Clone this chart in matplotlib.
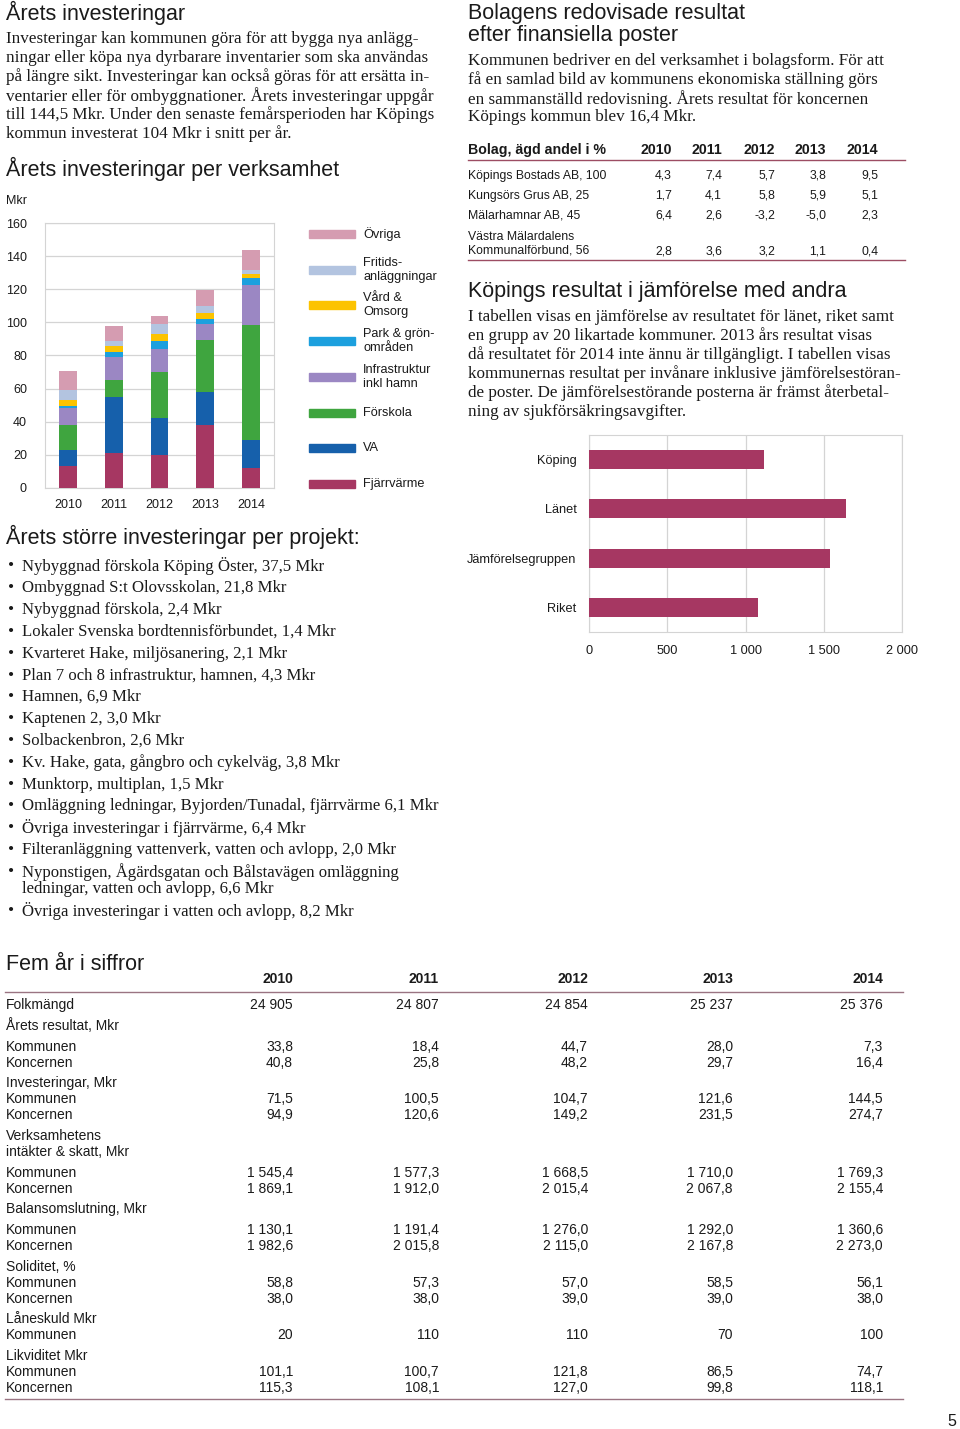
import numpy as np
import matplotlib
matplotlib.use('Agg')
import matplotlib.pyplot as plt
from matplotlib.patches import Rectangle
from matplotlib.lines import Line2D

plt.rcParams['font.family'] = ['Liberation Sans', 'DejaVu Sans']

# --- data ---
years = ['2010', '2011', '2012', '2013', '2014']
sectors = ['Fjärrvärme', 'VA', 'Förskola', 'Infrastruktur\ninkl hamn',
           'Park & grön-\nområden', 'Vård &\nOmsorg', 'Fritids-\nanläggningar', 'Övriga']
fjarrvarme = [13.1, 21.1, 19.7, 38.2, 12.1]
va = [9.9, 33.8, 22.6, 19.7, 16.7]
forskola = [15.2, 10.5, 27.5, 31.6, 69.8]
infra = [10.1, 13.7, 14.3, 9.7, 24.1]
park = [1.4, 2.8, 4.4, 2.6, 4.1]
vard = [3.6, 3.6, 4.7, 3.8, 2.6]
fritids = [6.1, 3.0, 6.0, 4.5, 2.4]
ovriga = [11.2, 9.5, 4.4, 9.6, 11.7]
sector_vals = [fjarrvarme, va, forskola, infra, park, vard, fritids, ovriga]
sector_cols = ['#a63762', '#1660ab', '#3fa53f', '#9b87c3', '#1ca0de', '#fcc300', '#b3c4e0', '#d59cb1']

comp_labels = ['Köping', 'Länet', 'Jämförelsegruppen', 'Riket']
comp_values = [1120, 1643, 1541, 1077]

bolag_names = ['Köpings Bostads AB, 100', 'Kungsörs Grus AB, 25', 'Mälarhamnar AB, 45',
               'Västra Mälardalens\nKommunalförbund, 56']
bolag_vals = [['4,3', '7,4', '5,7', '3,8', '9,5'],
              ['1,7', '4,1', '5,8', '5,9', '5,1'],
              ['6,4', '2,6', '-3,2', '-5,0', '2,3'],
              ['2,8', '3,6', '3,2', '1,1', '0,4']]

five_labels = ['Folkmängd', 'Årets resultat, Mkr', 'Kommunen', 'Koncernen', 'Investeringar, Mkr',
               'Kommunen', 'Koncernen', 'Verksamhetens', 'intäkter & skatt, Mkr', 'Kommunen',
               'Koncernen', 'Balansomslutning, Mkr', 'Kommunen', 'Koncernen', 'Soliditet, %',
               'Kommunen', 'Koncernen', 'Låneskuld Mkr', 'Kommunen', 'Likviditet Mkr',
               'Kommunen', 'Koncernen']
five_vals = [['24 905', '24 807', '24 854', '25 237', '25 376'], None,
             ['33,8', '18,4', '44,7', '28,0', '7,3'],
             ['40,8', '25,8', '48,2', '29,7', '16,4'], None,
             ['71,5', '100,5', '104,7', '121,6', '144,5'],
             ['94,9', '120,6', '149,2', '231,5', '274,7'], None, None,
             ['1 545,4', '1 577,3', '1 668,5', '1 710,0', '1 769,3'],
             ['1 869,1', '1 912,0', '2 015,4', '2 067,8', '2 155,4'], None,
             ['1 130,1', '1 191,4', '1 276,0', '1 292,0', '1 360,6'],
             ['1 982,6', '2 015,8', '2 115,0', '2 167,8', '2 273,0'], None,
             ['58,8', '57,3', '57,0', '58,5', '56,1'],
             ['38,0', '38,0', '39,0', '39,0', '38,0'], None,
             ['20', '110', '110', '70', '100'], None,
             ['101,1', '100,7', '121,8', '86,5', '74,7'],
             ['115,3', '108,1', '127,0', '99,8', '118,1']]
five_y = [1005, 1026, 1047, 1063, 1083, 1099, 1115, 1136, 1152, 1173, 1189, 1209, 1230, 1246,
          1267, 1283, 1299, 1319, 1335, 1356, 1372, 1388]

projekt = ['Nybyggnad förskola Köping Öster, 37,5 Mkr',
           'Ombyggnad S:t Olovsskolan, 21,8 Mkr',
           'Nybyggnad förskola, 2,4 Mkr',
           'Lokaler Svenska bordtennisförbundet, 1,4 Mkr',
           'Kvarteret Hake, miljösanering, 2,1 Mkr',
           'Plan 7 och 8 infrastruktur, hamnen, 4,3 Mkr',
           'Hamnen, 6,9 Mkr',
           'Kaptenen 2, 3,0 Mkr',
           'Solbackenbron, 2,6 Mkr',
           'Kv. Hake, gata, gångbro och cykelväg, 3,8 Mkr',
           'Munktorp, multiplan, 1,5 Mkr',
           'Omläggning ledningar, Byjorden/Tunadal, fjärrvärme 6,1 Mkr',
           'Övriga investeringar i fjärrvärme, 6,4 Mkr',
           'Filteranläggning vattenverk, vatten och avlopp, 2,0 Mkr',
           'Nyponstigen, Ågärdsgatan och Bålstavägen omläggning\nledningar, vatten och avlopp, 6,6 Mkr',
           'Övriga investeringar i vatten och avlopp, 8,2 Mkr']
projekt_y = [566, 588, 610, 632, 654, 676, 697, 719, 741, 763, 785, 806, 828, 850, 880, 911]

intro1 = ['Investeringar kan kommunen göra för att bygga nya anlägg-',
          'ningar eller köpa nya dyrbarare inventarier som ska användas',
          'på längre sikt. Investeringar kan också göras för att ersätta in-',
          'ventarier eller för ombyggnationer. Årets investeringar uppgår',
          'till 144,5 Mkr. Under den senaste femårsperioden har Köpings',
          'kommun investerat 104 Mkr i snitt per år.']
intro2 = ['Kommunen bedriver en del verksamhet i bolagsform. För att',
          'få en samlad bild av kommunens ekonomiska ställning görs',
          'en sammanställd redovisning. Årets resultat för koncernen',
          'Köpings kommun blev 16,4 Mkr.']
intro3 = ['I tabellen visas en jämförelse av resultatet för länet, riket samt',
          'en grupp av 20 likartade kommuner. 2013 års resultat visas',
          'då resultatet för 2014 inte ännu är tillgängligt. I tabellen visas',
          'kommunernas resultat per invånare inklusive jämförelsestöran-',
          'de poster. De jämförelsestörande posterna är främst återbetal-',
          'ning av sjukförsäkringsavgifter.']

# --- page ---
W, H = 960, 1429
fig = plt.figure(figsize=(W / 100, H / 100), dpi=100)
ink = '#1a1a1a'
serif = ['Liberation Serif', 'DejaVu Serif']
rule = '#9c4d63'

def tx(x, y, s, **kw):
    kw.setdefault('va', 'center')
    kw.setdefault('color', ink)
    fig.text(x / W, 1 - y / H, s, **kw)

def hline(x0, x1, y, c=rule, lw=1.0):
    fig.add_artist(Line2D([x0 / W, x1 / W], [1 - y / H, 1 - y / H], color=c, lw=lw))

def axpx(l, t, r, b):
    return fig.add_axes([l / W, 1 - b / H, (r - l) / W, (b - t) / H])

head = 15.5
body = 12.35

# left column text
tx(6, 13, 'Årets investeringar', fontsize=head)
for i, s in enumerate(intro1):
    tx(6, 39 + i * 18.9, s, fontsize=body, family=serif)
tx(6, 169, 'Årets investeringar per verksamhet', fontsize=head)
tx(6, 201, 'Mkr', fontsize=9)

# stacked bars
ax = axpx(45, 223, 274, 488)
x = np.arange(len(years))
bottom = np.zeros(len(years))
for v, c in zip(sector_vals, sector_cols):
    ax.bar(x, v, 0.39, bottom=bottom, color=c, zorder=3)
    bottom += np.array(v)
ax.set_xlim(-0.5, 4.5)
ax.set_ylim(0, 160)
ax.set_yticks(range(0, 161, 20))
ax.set_xticks(x)
ax.set_xticklabels(years)
ax.grid(axis='y', color='#d4d4d4', lw=0.9, zorder=0)
for sp in ax.spines.values():
    sp.set_color('#d4d4d4')
ax.tick_params(length=0, labelsize=9, colors=ink)
ax.tick_params(axis='y', pad=13)
ax.tick_params(axis='x', pad=8)

# legend
leg_y = [484, 448, 413, 377, 341, 305, 270, 234]
for s, c, yy in zip(sectors, sector_cols, leg_y):
    fig.add_artist(Rectangle((309 / W, 1 - (yy + 4) / H), 46 / W, 8 / H, color=c))
    tx(363, yy, s, fontsize=9.2, linespacing=1.15)

# projects
tx(6, 537, 'Årets större investeringar per projekt:', fontsize=head)
for s, yy in zip(projekt, projekt_y):
    tx(8, yy if '\n' not in s else yy - 8.5, '•', fontsize=body, family=serif)
    tx(22, yy, s, fontsize=12.1, family=serif, linespacing=0.95)

# right column
tx(468, 13, 'Bolagens redovisade resultat', fontsize=head)
tx(468, 35, 'efter finansiella poster', fontsize=head)
for i, s in enumerate(intro2):
    tx(468, 61 + i * 18.8, s, fontsize=body, family=serif)

col_r = [672, 722, 775, 826, 878]
tx(468, 150, 'Bolag, ägd andel i %', fontsize=10.2, weight='bold')
for yr, xr in zip(years, col_r):
    tx(xr, 150, yr, fontsize=10.2, weight='bold', ha='right')
hline(468, 905, 160)
bolag_y = [176, 196, 216, 251]
for name, vals, yy in zip(bolag_names, bolag_vals, bolag_y):
    tx(468, yy - (7.5 if '\n' in name else 0), name, fontsize=8.8, linespacing=1.2)
    for v, xr in zip(vals, col_r):
        tx(xr, yy, v, fontsize=8.8, ha='right')
hline(468, 905, 260)

tx(468, 291, 'Köpings resultat i jämförelse med andra', fontsize=head)
for i, s in enumerate(intro3):
    tx(468, 317 + i * 19, s, fontsize=body, family=serif)

# comparison bars
ax2 = axpx(589, 435, 902, 632)
yy = np.arange(len(comp_labels))
ax2.barh(yy, comp_values, 0.39, color='#a63762', zorder=3)
ax2.set_ylim(3.5, -0.5)
ax2.set_xlim(0, 2000)
ax2.set_xticks(range(0, 2001, 500))
ax2.set_xticklabels(['0', '500', '1 000', '1 500', '2 000'])
ax2.set_yticks(yy)
ax2.set_yticklabels(comp_labels)
ax2.grid(axis='x', color='#d4d4d4', lw=0.9, zorder=0)
for sp in ax2.spines.values():
    sp.set_color('#d4d4d4')
ax2.tick_params(length=0, labelsize=9.2, colors=ink)
ax2.tick_params(axis='y', pad=9)
ax2.tick_params(axis='x', pad=9)

# five year table
five_r = [293, 439, 588, 733, 883]
tx(6, 964, 'Fem år i siffror', fontsize=head)
for yr, xr in zip(years, five_r):
    tx(xr, 979, yr, fontsize=10, weight='bold', ha='right')
hline(5, 903, 992, c='#9a7482')
for lab, vals, yy in zip(five_labels, five_vals, five_y):
    tx(6, yy, lab, fontsize=10)
    if vals:
        for v, xr in zip(vals, five_r):
            tx(xr, yy, v, fontsize=10, ha='right')
hline(5, 903, 1399, c='#9a7482')

tx(952, 1421, '5', fontsize=11.5, ha='center')

fig.savefig('out.png', dpi=100)
